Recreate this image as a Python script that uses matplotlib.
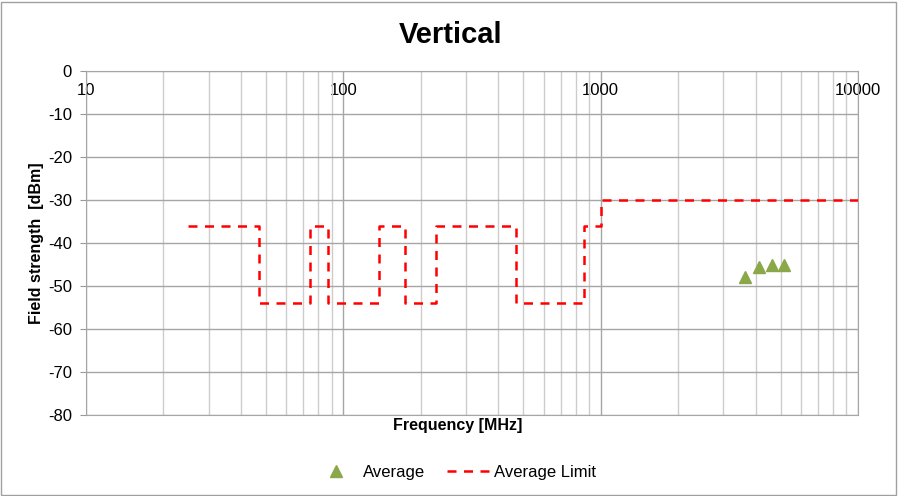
import matplotlib
matplotlib.use("Agg")
import matplotlib.pyplot as plt
from matplotlib.patches import Rectangle
from matplotlib.ticker import LogLocator, FixedLocator, NullFormatter

plt.rcParams['font.family'] = ['Liberation Sans', 'DejaVu Sans']
plt.rcParams['axes.unicode_minus'] = False

# limit line (steps) and measured average points
limit_freq = [25, 47, 74, 87.5, 137, 174, 230, 470, 862, 1000, 10000]
limit_level = [-36, -54, -36, -54, -36, -54, -36, -54, -36, -30, -30]
avg_freq = [3640, 4110, 4640, 5140]
avg_level = [-47.9, -45.5, -45.1, -45.1]
xticks = [10, 100, 1000, 10000]
xtick_labels = ['10', '100', '1000', '10000']

fig = plt.figure(figsize=(8.98, 4.96), dpi=100)
ax = fig.add_axes([86 / 898, 1 - 415 / 496, 772 / 898, 344 / 496])

pts, = ax.plot(avg_freq, avg_level, linestyle='none', marker='^', markersize=8.5,
               color='#8aa84a', label='Average')
lim, = ax.plot(limit_freq, limit_level, drawstyle='steps-post', color='#ff0000',
               linewidth=1.8, dashes=(3.6, 3.0), label='Average Limit')

ax.set_xscale('log')
ax.set_xlim(10, 10000)
ax.set_ylim(-80, 0)
ax.set_yticks(range(-80, 1, 10))

ax.xaxis.set_major_locator(FixedLocator(xticks))
ax.set_xticklabels(xtick_labels)
ax.xaxis.set_minor_locator(LogLocator(base=10, subs=range(2, 10)))
ax.xaxis.set_minor_formatter(NullFormatter())
ax.tick_params(axis='x', which='both', bottom=False, top=False,
               labelbottom=False, labeltop=True, pad=-23, labelsize=12)
ax.tick_params(axis='y', which='major', length=4, color='#999999',
               labelsize=12, pad=6)

ax.grid(True, which='major', color='#a6a6a6', linewidth=1)
ax.grid(True, which='minor', axis='x', color='#cccccc', linewidth=1)
ax.set_axisbelow(True)
for s in ax.spines.values():
    s.set_color('#a6a6a6')

ax.set_xlabel('Frequency [MHz]', fontsize=11.5, fontweight='bold')
ax.xaxis.set_label_coords(0.482, -0.01)
ax.xaxis.label.set_va('top')
ax.set_ylabel('Field strength  [dBm]', fontsize=11.5, fontweight='bold')
ax.yaxis.set_label_coords(-(86 - 44) / 772, 0.5)

fig.text(0.502, 1 - 35 / 496, 'Vertical', ha='center', va='center',
         fontsize=21, fontweight='bold')

leg1 = ax.legend(handles=[pts], loc='center left',
                 bbox_to_anchor=(327.5 / 898, 1 - 472 / 496),
                 bbox_transform=fig.transFigure, frameon=False, fontsize=12,
                 handlelength=1.0, handletextpad=1.1, borderpad=0,
                 borderaxespad=0)
ax.add_artist(leg1)
ax.legend(handles=[lim], loc='center left',
          bbox_to_anchor=(446.5 / 898, 1 - 472 / 496),
          bbox_transform=fig.transFigure, frameon=False, fontsize=12,
          handlelength=2.55, handletextpad=0.3, borderpad=0, borderaxespad=0)

fig.patches.append(Rectangle((1 / 898, 1 / 496), 895 / 898, 493 / 496,
                             transform=fig.transFigure, fill=False,
                             edgecolor='#a0a0a0', linewidth=1))

fig.savefig('out.png', dpi=100)
